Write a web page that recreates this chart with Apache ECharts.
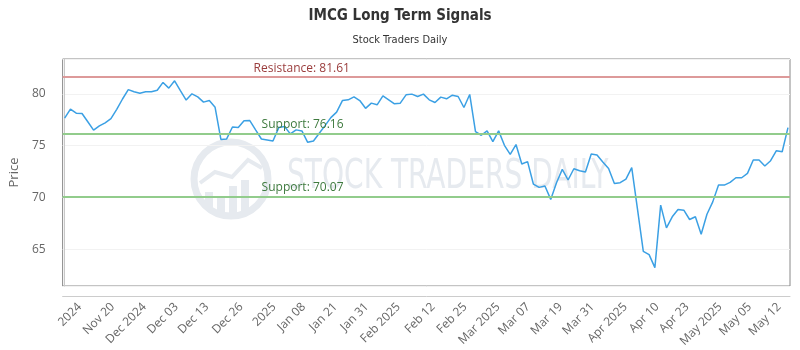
<!DOCTYPE html>
<html>
<head>
<meta charset="utf-8">
<script src="https://cdn.jsdelivr.net/npm/echarts@6.0.0/dist/echarts.min.js"></script>
<style>
  html, body { margin: 0; padding: 0; background: #fff; }
  #chart { width: 800px; height: 350px; }
</style>
</head>
<body>
<div id="chart"></div>
<script>
// closing prices, one per trading day
const prices = [
  77.65, 78.52, 78.13, 78.1, 77.3, 76.5, 76.9, 77.2, 77.6, 78.5,
  79.5, 80.4, 80.2, 80.06, 80.2, 80.2, 80.35, 81.1, 80.55, 81.26,
  80.3, 79.4, 80.0, 79.7, 79.2, 79.35, 78.7, 75.6, 75.65, 76.8,
  76.75, 77.4, 77.42, 76.52, 75.64, 75.55, 75.45, 76.74, 76.84, 76.13,
  76.52, 76.42, 75.32, 75.45, 76.19, 76.93, 77.7, 78.23, 79.35, 79.42,
  79.71, 79.35, 78.6, 79.1, 78.94, 79.8, 79.42, 79.03, 79.1, 79.9,
  79.97, 79.74, 79.97, 79.42, 79.16, 79.68, 79.52, 79.87, 79.74, 78.68,
  79.94, 76.35, 76.0, 76.42, 75.38, 76.42, 75.03, 74.16, 75.1, 73.22,
  73.45, 71.29, 70.97, 71.1, 69.81, 71.42, 72.71, 71.68, 72.77, 72.58,
  72.45, 74.19, 74.1, 73.42, 72.8, 71.35, 71.42, 71.77, 72.87, 68.84,
  64.8, 64.48, 63.22, 69.25, 67.06, 68.13, 68.84, 68.77, 67.87, 68.13,
  66.45, 68.38, 69.57, 71.19, 71.19, 71.45, 71.9, 71.9, 72.32, 73.61,
  73.61, 73.03, 73.54, 74.51, 74.41, 76.74
]

// x tick labels and where they sit (in trading-day units)
const tickLabels = ['2024', 'Nov 20', 'Dec 2024', 'Dec 03', 'Dec 13', 'Dec 26', '2025', 'Jan 08',
  'Jan 21', 'Jan 31', 'Feb 2025', 'Feb 12', 'Feb 25', 'Mar 2025', 'Mar 07', 'Mar 19', 'Mar 31',
  'Apr 2025', 'Apr 10', 'Apr 23', 'May 2025', 'May 05', 'May 12']
const tickPos = [2.6, 8.3, 13.8, 19.3, 24.6, 30.5, 36.2, 41.3, 46.8, 52.2, 57.7, 63.7, 69.2,
  74.9, 80.1, 85.7, 91.2, 96.9, 102.4, 107.6, 113.3, 118.4, 123.5]

const resistance = 81.61
const supports = [76.16, 70.07]

const condensed = "'DejaVu Sans Condensed', 'DejaVu Sans', sans-serif"
const wmColor = '#e6eaef'

const chart = echarts.init(document.getElementById('chart'), null, { renderer: 'canvas' })

const seriesData = prices.map((v, i) => [i, v])

const levelLines = [
  {
    yAxis: resistance,
    lineStyle: { color: '#dd9a9a', width: 2, type: 'solid' },
    label: { formatter: 'Resistance: ' + resistance.toFixed(2), color: '#9a3c3c', distance: [191, 3] }
  }
].concat(supports.map(s => ({
  yAxis: s,
  lineStyle: { color: '#92cc8c', width: 2, type: 'solid' },
  label: { formatter: 'Support: ' + s.toFixed(2), color: '#3e7a3e', distance: [199, 3] }
})))

const option = {
  animation: false,
  title: {
    text: 'IMCG Long Term Signals',
    subtext: 'Stock Traders Daily',
    left: 'center',
    top: 4,
    itemGap: 11,
    textStyle: { fontFamily: condensed, fontWeight: 'bold', fontSize: 15, color: '#333' },
    subtextStyle: { fontFamily: condensed, fontSize: 11, color: '#333' }
  },
  graphic: [
    {
      type: 'group',
      silent: true,
      z: 1,
      children: [
        { type: 'circle', shape: { cx: 231, cy: 179, r: 37 }, style: { fill: 'none', stroke: wmColor, lineWidth: 7 } },
        { type: 'polyline', shape: { points: [[200, 183], [215, 172], [232, 177], [248, 160], [262, 168]] }, style: { stroke: wmColor, lineWidth: 4, fill: 'none' } },
        { type: 'rect', shape: { x: 205, y: 192, width: 8, height: 18 }, style: { fill: wmColor } },
        { type: 'rect', shape: { x: 217, y: 198, width: 8, height: 14 }, style: { fill: wmColor } },
        { type: 'rect', shape: { x: 229, y: 186, width: 8, height: 28 }, style: { fill: wmColor } },
        { type: 'rect', shape: { x: 241, y: 180, width: 8, height: 32 }, style: { fill: wmColor } },
        {
          type: 'text',
          x: 287, y: 178,
          scaleX: 0.78,
          style: {
            text: 'STOCK TRADERS DAILY',
            fontFamily: condensed,
            fontSize: 40,
            fill: wmColor,
            verticalAlign: 'middle'
          }
        }
      ]
    }
  ],
  grid: {
    left: 60, right: 10, top: 59, bottom: 64,
    show: true, borderColor: '#888', borderWidth: 1
  },
  xAxis: {
    type: 'value',
    min: -0.35,
    max: prices.length - 1 + 0.35,
    offset: 10,
    axisLine: { show: true, lineStyle: { color: '#ccc' } },
    axisTick: { show: false },
    splitLine: { show: false },
    axisLabel: {
      customValues: tickPos,
      rotate: 45,
      margin: 9,
      color: '#666',
      fontSize: 12,
      fontFamily: 'Open Sans',
      formatter: v => tickLabels[tickPos.indexOf(v)] || ''
    }
  },
  yAxis: {
    type: 'value',
    min: 61.45,
    max: 83.36,
    offset: 10,
    name: 'Price',
    nameLocation: 'middle',
    nameGap: 28,
    nameTextStyle: { color: '#666', fontSize: 13, fontFamily: 'Open Sans' },
    axisLine: { show: true, lineStyle: { color: '#c8c8c8' } },
    axisTick: { show: false },
    splitLine: { lineStyle: { color: '#f2f2f2' } },
    axisLabel: {
      showMinLabel: false,
      showMaxLabel: false,
      margin: 7,
      color: '#666',
      fontSize: 12,
      fontFamily: 'Open Sans'
    }
  },
  series: [
    {
      type: 'line',
      data: seriesData,
      showSymbol: false,
      symbol: 'none',
      lineStyle: { color: '#3ba0e4', width: 1.5 },
      z: 3,
      markLine: {
        silent: true,
        symbol: 'none',
        label: { position: 'insideStartTop', fontSize: 12, fontFamily: 'Open Sans' },
        data: levelLines
      }
    }
  ]
}

chart.setOption(option)
</script>
</body>
</html>
